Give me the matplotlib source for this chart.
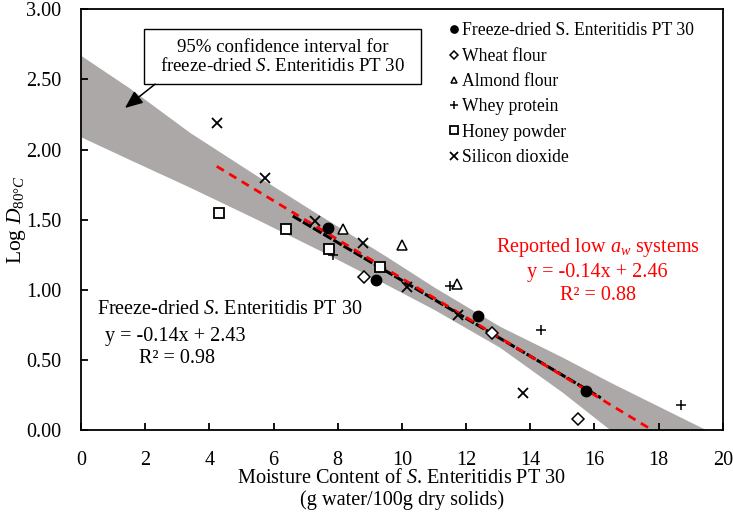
import matplotlib
matplotlib.use("Agg")
import matplotlib.pyplot as plt
from matplotlib.patches import Rectangle

plt.rcParams["font.family"] = ["Liberation Serif", "DejaVu Serif"]
plt.rcParams["mathtext.fontset"] = "custom"
plt.rcParams["mathtext.rm"] = "Liberation Serif"
plt.rcParams["mathtext.it"] = "Liberation Serif:italic"
plt.rcParams["lines.scale_dashes"] = False

# data
freeze_x = [7.69, 9.19, 12.36, 15.73]
freeze_y = [1.44, 1.07, 0.81, 0.28]
wheat_x = [8.82, 12.82, 15.49]
wheat_y = [1.09, 0.69, 0.08]
almond_x = [8.17, 10.0, 11.72]
almond_y = [1.43, 1.32, 1.04]
whey_x = [7.86, 11.5, 14.33, 18.71]
whey_y = [1.25, 1.03, 0.71, 0.18]
honey_x = [4.30, 6.39, 7.73, 9.31]
honey_y = [1.55, 1.43, 1.29, 1.16]
silica_x = [4.25, 5.73, 7.29, 8.78, 10.15, 11.75, 13.78]
silica_y = [2.19, 1.80, 1.49, 1.33, 1.02, 0.82, 0.265]

# regression lines (slope, intercept, x range)
fd_fit = (-0.135, 2.417)
fd_range = [6.6, 16.2]
low_aw_fit = (-0.1385, 2.466)
low_aw_range = [4.23, 17.8]

# 95% confidence band edges
band_x = [0, 1.5, 3.4, 5.5, 7.45, 9.5, 11.0, 13.05, 15.0, 16.5, 18.0, 19.5, 20.0]
band_hi = [2.67, 2.44, 2.12, 1.81, 1.53, 1.24, 1.02, 0.74, 0.52, 0.34, 0.17, 0.0, -0.07]
band_lo = [2.09, 1.93, 1.73, 1.50, 1.28, 1.04, 0.86, 0.59, 0.27, 0.0, -0.30, -0.60, -0.70]

fig = plt.figure(figsize=(7.33, 5.12), dpi=100)
ax = fig.add_axes([0.1105, 0.160, 0.8755, 0.822])

ax.fill_between(band_x, band_lo, band_hi, color="#aba8a7", lw=0, zorder=1)

x0, x1 = fd_range
ax.plot(fd_range, [fd_fit[0] * x0 + fd_fit[1], fd_fit[0] * x1 + fd_fit[1]],
        color="black", lw=2.2, dashes=(7, 1.5), zorder=2)
x0, x1 = low_aw_range
ax.plot(low_aw_range, [low_aw_fit[0] * x0 + low_aw_fit[1], low_aw_fit[0] * x1 + low_aw_fit[1]],
        color="#ff0000", lw=2.0, dashes=(6, 4.5), zorder=3)

ms = 7.5
ax.plot(freeze_x, freeze_y, "o", ms=ms, color="black", ls="none", zorder=4,
        label="Freeze-dried S. Enteritidis PT 30")
ax.plot(wheat_x, wheat_y, "D", ms=ms - 1.5, mfc="white", mec="black", mew=1.1, ls="none", zorder=4,
        label="Wheat flour")
ax.plot(almond_x, almond_y, "^", ms=ms - 0.5, mfc="white", mec="black", mew=1.1, ls="none", zorder=4,
        label="Almond flour")
ax.plot(whey_x, whey_y, "+", ms=ms, color="black", mew=1.1, ls="none", zorder=4,
        label="Whey protein")
ax.plot(honey_x, honey_y, "s", ms=ms, mfc="white", mec="black", mew=1.3, ls="none", zorder=4,
        label="Honey powder")
ax.plot(silica_x, silica_y, "x", ms=ms, color="black", mew=1.3, ls="none", zorder=4,
        label="Silicon dioxide")

leg = ax.legend(loc="upper left", bbox_to_anchor=(0.553, 1.0), frameon=False, fontsize=12.7,
                handlelength=0.5, handletextpad=0.25, labelspacing=0.47, markerscale=0.7,
                borderaxespad=0.35)

ax.set_xlim(0, 20)
ax.set_ylim(0, 3)
ax.set_xticks(range(0, 21, 2))
ax.set_yticks([0, 0.5, 1.0, 1.5, 2.0, 2.5, 3.0])
ax.set_yticklabels(["%.2f" % v for v in [0, 0.5, 1.0, 1.5, 2.0, 2.5, 3.0]])
ax.tick_params(direction="in", labelsize=14.5, length=5, width=1.3)
ax.tick_params(axis="x", pad=15)
ax.tick_params(axis="y", pad=14)
for s in ax.spines.values():
    s.set_linewidth(1.3)

ax.set_xlabel("Moisture Content of $S$. Enteritidis PT 30\n(g water/100g dry solids)", fontsize=14.6,
              linespacing=1.2, labelpad=-1)
ax.set_ylabel("Log $D_{80°C}$", fontsize=15.5)
ax.yaxis.set_label_coords(-0.083, 0.5)

# annotation box with arrow
ax.add_patch(Rectangle((1.96, 2.466), 8.63, 0.391, fc="white", ec="black", lw=1.0, zorder=5))
ax.text(6.28, 2.66, "95% confidence interval for\nfreeze-dried $S$. Enteritidis PT 30",
        fontsize=13.6, ha="center", va="center", linespacing=1.1, zorder=6)
ax.annotate("", xy=(1.37, 2.296), xytext=(2.31, 2.466),
            arrowprops=dict(arrowstyle="-|>,head_length=0.6,head_width=0.25", color="black",
                            lw=1.1, shrinkA=0, shrinkB=0, mutation_scale=18), zorder=6)

ax.text(0.5, 0.86, "Freeze-dried $S$. Enteritidis PT 30", fontsize=14.5, va="center")
ax.text(0.75, 0.67, "y = -0.14x + 2.43", fontsize=14.5, va="center")
ax.text(1.8, 0.51, "R² = 0.98", fontsize=14.5, va="center")

red = "#ff0000"
ax.text(16.1, 1.30, "Reported low $a_w$ systems", fontsize=14.5, color=red, ha="center", va="center")
ax.text(16.1, 1.12, "y = -0.14x + 2.46", fontsize=14.5, color=red, ha="center", va="center")
ax.text(16.1, 0.96, "R² = 0.88", fontsize=14.5, color=red, ha="center", va="center")

fig.savefig("out.png", dpi=100)
